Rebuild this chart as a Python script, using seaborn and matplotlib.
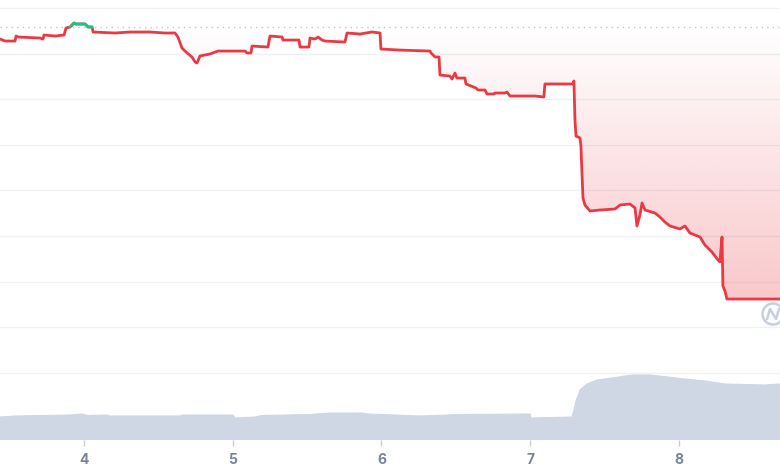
import numpy as np
import pandas as pd
import matplotlib
matplotlib.use("Agg")
import matplotlib.pyplot as plt
import seaborn as sns
from matplotlib.patches import Circle
from matplotlib.lines import Line2D

# price trace (day of month, price)
days = [3.435, 3.469, 3.536, 3.543, 3.556, 3.704, 3.724, 3.731, 3.805, 3.866,
        3.879, 3.906, 3.933, 3.946, 4.007, 4.027, 4.054, 4.061, 4.209, 4.310,
        4.444, 4.545, 4.612, 4.632, 4.659, 4.686, 4.726, 4.747, 4.760, 4.780,
        4.847, 4.901, 5.083, 5.096, 5.123, 5.130, 5.237, 5.251, 5.332, 5.338,
        5.446, 5.453, 5.513, 5.520, 5.554, 5.574, 5.601, 5.621, 5.755, 5.769,
        5.856, 5.937, 5.991, 5.997, 6.125, 6.327, 6.334, 6.361, 6.388, 6.394,
        6.461, 6.475, 6.495, 6.508, 6.562, 6.569, 6.636, 6.650, 6.697, 6.710,
        6.757, 6.764, 6.831, 6.845, 6.865, 7.033, 7.093, 7.100, 7.289, 7.295,
        7.302, 7.309, 7.336, 7.342, 7.356, 7.369, 7.403, 7.470, 7.571, 7.605,
        7.672, 7.706, 7.719, 7.739, 7.753, 7.773, 7.840, 7.874, 7.907, 7.941,
        8.008, 8.042, 8.075, 8.143, 8.176, 8.223, 8.264, 8.277, 8.291, 8.297,
        8.311, 8.324, 8.681]
prices = [1.3660, 1.3638, 1.3638, 1.3693, 1.3682, 1.3671, 1.3660, 1.3704, 1.3693, 1.3704,
          1.3781, 1.3792, 1.3836, 1.3825, 1.3825, 1.3792, 1.3792, 1.3737, 1.3726, 1.3737,
          1.3737, 1.3726, 1.3726, 1.3682, 1.3561, 1.3518, 1.3463, 1.3408, 1.3397, 1.3474,
          1.3496, 1.3528, 1.3528, 1.3507, 1.3507, 1.3583, 1.3572, 1.3693, 1.3682, 1.3649,
          1.3649, 1.3572, 1.3572, 1.3671, 1.3660, 1.3682, 1.3649, 1.3638, 1.3627, 1.3726,
          1.3715, 1.3737, 1.3726, 1.3550, 1.3539, 1.3528, 1.3507, 1.3463, 1.3463, 1.3265,
          1.3254, 1.3221, 1.3287, 1.3232, 1.3232, 1.3167, 1.3123, 1.3101, 1.3101, 1.3057,
          1.3057, 1.3068, 1.3068, 1.3079, 1.3035, 1.3035, 1.3024, 1.3167, 1.3167, 1.3200,
          1.2772, 1.2596, 1.2575, 1.2487, 1.1917, 1.1840, 1.1774, 1.1785, 1.1796, 1.1840,
          1.1851, 1.1807, 1.1610, 1.1730, 1.1862, 1.1785, 1.1752, 1.1708, 1.1653, 1.1610,
          1.1577, 1.1610, 1.1533, 1.1489, 1.1401, 1.1325, 1.1237, 1.1215, 1.1489, 1.0952,
          1.0897, 1.0809, 1.0809]
open_price = 1.3792

# volume trace (day, volume in millions)
vol_days = [3.435, 3.536, 3.906, 3.987, 4.027, 4.155, 4.175, 4.646, 4.659, 5.002,
            5.016, 5.150, 5.197, 5.520, 5.654, 5.870, 5.910, 6.260, 6.529, 7.000,
            7.006, 7.282, 7.295, 7.309, 7.336, 7.383, 7.450, 7.551, 7.685, 7.806,
            7.927, 8.042, 8.176, 8.311, 8.580, 8.681]
vol_values = [2.3, 2.4, 2.5, 2.6, 2.45, 2.5, 2.4, 2.4, 2.5, 2.5,
              2.2, 2.3, 2.45, 2.55, 2.7, 2.7, 2.6, 2.4, 2.55, 2.6,
              2.2, 2.3, 3.0, 3.9, 5.0, 5.6, 6.0, 6.2, 6.5, 6.5,
              6.3, 6.1, 5.9, 5.6, 5.5, 5.6]

tick_days = [4, 5, 6, 7, 8]

RED = "#ea3943"
GREEN = "#16c784"
VOL = "#d0d7e4"


def add_crossings(x, y, base):
    xs, ys = [x[0]], [y[0]]
    for i in range(1, len(x)):
        a, b = y[i - 1] - base, y[i] - base
        if a * b < 0:
            t = a / (a - b)
            xs.append(x[i - 1] + t * (x[i] - x[i - 1]))
            ys.append(base)
        xs.append(x[i])
        ys.append(y[i])
    return np.array(xs), np.array(ys)


def gradient_fill(ax, x, y, base, color, lo, hi, above):
    rgb = matplotlib.colors.to_rgb(color)
    if above:
        mask = y >= base
        poly = ax.fill_between(x, y, base, where=mask, interpolate=True, facecolor="none", edgecolor="none")
        ext = [x.min(), x.max(), base, y.max()]
        alpha = np.linspace(lo, hi, 256)
    else:
        mask = y <= base
        poly = ax.fill_between(x, y, base, where=mask, interpolate=True, facecolor="none", edgecolor="none")
        ext = [x.min(), x.max(), y.min(), base]
        alpha = np.linspace(hi, lo, 256)
    img = np.zeros((256, 1, 4))
    img[:, :, :3] = rgb
    img[:, 0, 3] = alpha
    im = ax.imshow(img, extent=ext, origin="lower", aspect="auto", zorder=1, interpolation="bilinear")
    paths = poly.get_paths()
    if paths:
        verts = np.concatenate([p.vertices for p in paths])
        codes = np.concatenate([p.codes for p in paths])
        im.set_clip_path(matplotlib.path.Path(verts, codes), transform=ax.transData)
    else:
        im.remove()


def main():
    sns.set_theme(style="white")
    plt.rcParams["font.family"] = ["Inter", "DejaVu Sans"]

    fig = plt.figure(figsize=(7.8, 4.7), dpi=100)
    ax = fig.add_axes([0, 30 / 470, 1, 440 / 470])
    vax = ax.twinx()

    x, y = add_crossings(np.array(days), np.array(prices), open_price)

    # gridlines + open price reference
    for g in np.arange(0.95, 1.401, 0.05):
        ax.axhline(g, color="#eff1f4", lw=1, zorder=0)
    ax.axhline(open_price, color="#c3c6cc", lw=1, ls=(0, (1, 3)), zorder=1)

    gradient_fill(ax, x, y, open_price, RED, 0.0, 0.28, above=False)
    gradient_fill(ax, x, y, open_price, GREEN, 0.0, 0.2, above=True)

    df = pd.DataFrame({"day": x, "price": y})
    sns.lineplot(data=df, x="day", y="price", color=RED, lw=2.0, sort=False,
                 estimator=None, ax=ax, zorder=3)
    df["green"] = np.where(df["price"] >= open_price, df["price"], np.nan)
    ax.plot(df["day"], df["green"], color=GREEN, lw=2.0, zorder=4)

    # volume
    vdf = pd.DataFrame({"day": vol_days, "vol": vol_values})
    vax.fill_between(vdf["day"], vdf["vol"], 0, color=VOL, lw=0, zorder=1)
    sns.lineplot(data=vdf, x="day", y="vol", color=VOL, lw=0.8, ax=vax)
    vax.set_ylim(0, 44)
    vax.set_yticks([])
    vax.set_ylabel("")

    ax.set_xlim(days[0], days[-1])
    ax.set_ylim(0.9263, 1.4088)
    ax.set_yticks([])
    ax.set_xticks(tick_days)
    ax.set_xticklabels([str(d) for d in tick_days])
    ax.set_xlabel("")
    ax.set_ylabel("")
    ax.tick_params(axis="x", bottom=True, length=4, width=1, color="#c9ced8",
                   labelcolor="#7a8497", labelsize=10, pad=5)
    for lab in ax.get_xticklabels():
        lab.set_fontweight("bold")
    for a in (ax, vax):
        for s in a.spines.values():
            s.set_visible(False)
        a.grid(False)

    # watermark logo (display pixels, origin bottom-left)
    cx, cy = 773, 470 - 314
    fig.add_artist(Circle((cx, cy), 10.5, transform=None, fill=False, ec="#c6cfdf", lw=1.8, zorder=5))
    fig.add_artist(Line2D([cx - 6, cx - 3, cx + 3, cx + 6], [cy - 5, cy + 5, cy - 5, cy + 5],
                          transform=None, color="#c6cfdf", lw=1.8, zorder=5))

    fig.savefig("out.png", dpi=100)


if __name__ == "__main__":
    main()
